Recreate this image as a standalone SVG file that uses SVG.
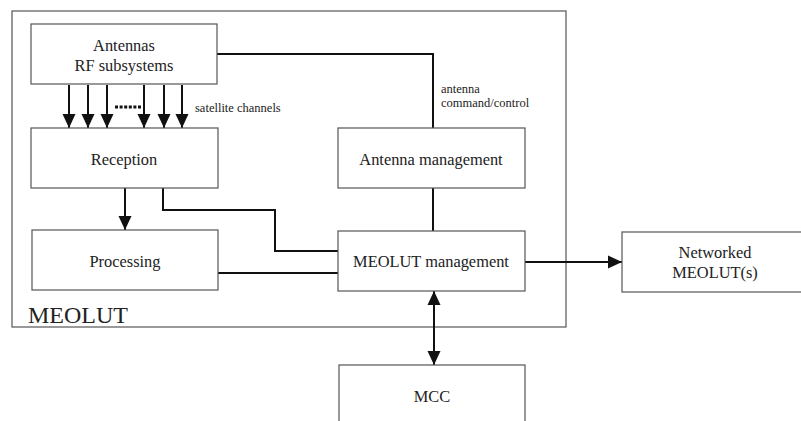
<svg xmlns="http://www.w3.org/2000/svg" width="801" height="421" viewBox="0 0 801 421">
<defs>
<style>
.box{fill:#fff;stroke:#555;stroke-width:1.2}
.t{font-size:16.4px;fill:#222;text-anchor:middle}
.s{font-size:12.5px;fill:#222}
.c{fill:none;stroke:#111;stroke-width:2}
</style>
<marker id="ah" markerUnits="userSpaceOnUse" markerWidth="14" markerHeight="14" viewBox="0 0 14 14" refX="14" refY="7" orient="auto-start-reverse">
<path d="M0,0.5 L14,7 L0,13.5 Z" fill="#111"/>
</marker>
</defs>
<rect width="801" height="421" fill="#fff"/>
<g font-family="Liberation Serif, Times New Roman, serif">
<g id="meolut-frame">
<rect x="12" y="11" width="554" height="316" fill="none" stroke="#555" stroke-width="1.2"/>
<text x="28" y="323" font-size="24" fill="#222">MEOLUT</text>
</g>
<g id="connectors">
<line class="c" x1="69" y1="85" x2="69" y2="128" marker-end="url(#ah)"/>
<line class="c" x1="88" y1="85" x2="88" y2="128" marker-end="url(#ah)"/>
<line class="c" x1="107" y1="85" x2="107" y2="128" marker-end="url(#ah)"/>
<line class="c" x1="144" y1="85" x2="144" y2="128" marker-end="url(#ah)"/>
<line class="c" x1="164" y1="85" x2="164" y2="128" marker-end="url(#ah)"/>
<line class="c" x1="182" y1="85" x2="182" y2="128" marker-end="url(#ah)"/>
<line x1="115" y1="107" x2="142" y2="107" stroke="#111" stroke-width="3" stroke-dasharray="3,1.6"/>
<polyline class="c" points="217,54 433,54 433,128"/>
<line class="c" x1="433" y1="188" x2="433" y2="231"/>
<line class="c" x1="125" y1="188" x2="125" y2="230" marker-end="url(#ah)"/>
<polyline class="c" points="163,188 163,210 275,210 275,251 338,251"/>
<line class="c" x1="218" y1="273" x2="338" y2="273"/>
<line class="c" x1="525" y1="262" x2="622" y2="262" marker-end="url(#ah)"/>
<line class="c" x1="434" y1="291" x2="434" y2="365" marker-start="url(#ah)" marker-end="url(#ah)"/>
<text class="s" x="195" y="112">satellite channels</text>
<text class="s" x="441" y="93">antenna</text>
<text class="s" x="441" y="107">command/control</text>
</g>
<g id="antennas">
<rect class="box" x="31" y="24" width="186" height="60"/>
<text class="t" x="124" y="51">Antennas</text>
<text class="t" x="124" y="71">RF subsystems</text>
</g>
<g id="reception">
<rect class="box" x="31" y="128" width="187" height="60"/>
<text class="t" x="124" y="165">Reception</text>
</g>
<g id="processing">
<rect class="box" x="32" y="230" width="186" height="60"/>
<text class="t" x="125" y="267">Processing</text>
</g>
<g id="antenna-management">
<rect class="box" x="338" y="128" width="187" height="60"/>
<text class="t" x="431" y="165">Antenna management</text>
</g>
<g id="meolut-management">
<rect class="box" x="338" y="231" width="187" height="60"/>
<text class="t" x="431" y="267">MEOLUT management</text>
</g>
<g id="networked-meoluts">
<rect class="box" x="622" y="232" width="190" height="60"/>
<text class="t" x="715" y="258">Networked</text>
<text class="t" x="715" y="278">MEOLUT(s)</text>
</g>
<g id="mcc">
<rect class="box" x="339" y="365" width="186" height="70"/>
<text class="t" x="432" y="402">MCC</text>
</g>
</g>
</svg>
